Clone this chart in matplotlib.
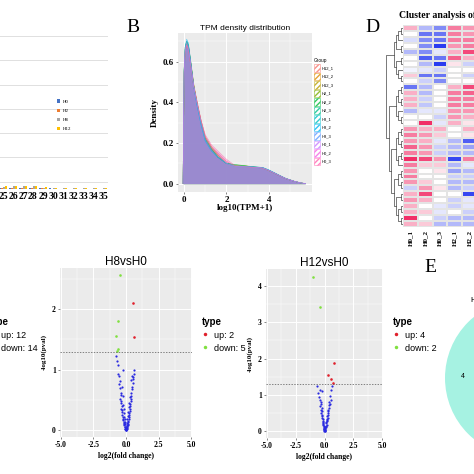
import numpy as np
import matplotlib
matplotlib.use('Agg')
import matplotlib.pyplot as plt
from matplotlib.colors import LinearSegmentedColormap
from matplotlib.patches import Patch, Circle
from matplotlib.lines import Line2D

SERIF = 'Liberation Serif'
SANS = 'Liberation Sans'

# ---------------- data ----------------
# panel A (only the right end is visible)
a_cats = [25, 26, 27, 28, 29, 30, 31, 32, 33, 34, 35]
a_series = ['H0', 'H2', 'H8', 'H12']
a_colors = ['#4472c4', '#ed7d31', '#a5a5a5', '#ffc000']
a_vals = {
    'H0':  [0.04, 0.05, 0.05, 0.05, 0.03, 0.03, 0.02, 0.02, 0.02, 0.02, 0.02],
    'H2':  [0.05, 0.06, 0.05, 0.05, 0.03, 0.02, 0.02, 0.02, 0.02, 0.02, 0.02],
    'H8':  [0.10, 0.12, 0.11, 0.12, 0.06, 0.05, 0.05, 0.05, 0.05, 0.05, 0.05],
    'H12': [0.12, 0.14, 0.12, 0.13, 0.07, 0.06, 0.06, 0.06, 0.06, 0.06, 0.06],
}

# panel B: TPM density
tpm_x = [-0.05, 0.0, 0.05, 0.12, 0.2, 0.3, 0.45, 0.6, 0.8, 1.0, 1.3, 1.6,
         2.0, 2.4, 2.8, 3.2, 3.7, 4.0, 4.4, 4.8, 5.2, 5.5, 5.75]
groups = ['H12_1', 'H12_2', 'H12_3', 'H2_1', 'H2_2', 'H2_3',
          'H8_1', 'H8_2', 'H8_3', 'H0_1', 'H0_2', 'H0_3']
tpm_density = [
    [0, .55, .66, .69, .67, .60, .49, .41, .31, .23, .18, .15, .11, .085, .083, .082, .078, .066, .046, .026, .012, .004, 0],
    [0, .54, .65, .68, .66, .59, .48, .40, .31, .23, .18, .14, .10, .086, .084, .082, .077, .065, .045, .025, .012, .004, 0],
    [0, .55, .66, .69, .67, .60, .48, .40, .30, .22, .17, .14, .10, .090, .088, .083, .078, .065, .045, .025, .012, .004, 0],
    [0, .56, .67, .70, .68, .61, .49, .40, .30, .22, .17, .13, .10, .092, .090, .084, .079, .066, .046, .026, .012, .004, 0],
    [0, .56, .67, .70, .68, .60, .48, .40, .30, .22, .17, .13, .10, .094, .089, .083, .078, .065, .045, .025, .012, .004, 0],
    [0, .55, .66, .69, .67, .60, .48, .40, .30, .22, .17, .13, .10, .092, .088, .082, .078, .065, .045, .025, .012, .004, 0],
    [0, .56, .67, .70, .68, .60, .48, .39, .29, .21, .16, .13, .10, .086, .085, .083, .080, .068, .047, .026, .012, .004, 0],
    [0, .56, .67, .71, .69, .61, .48, .39, .29, .21, .16, .13, .10, .085, .084, .083, .080, .068, .047, .026, .012, .004, 0],
    [0, .55, .66, .70, .68, .60, .48, .39, .29, .21, .16, .13, .10, .085, .084, .083, .079, .067, .046, .026, .012, .004, 0],
    [0, .55, .66, .69, .67, .60, .48, .40, .30, .22, .17, .14, .10, .084, .082, .081, .077, .065, .045, .025, .012, .004, 0],
    [0, .54, .65, .68, .66, .59, .48, .40, .31, .23, .18, .15, .11, .086, .083, .081, .077, .065, .045, .025, .012, .004, 0],
    [0, .54, .65, .68, .66, .59, .48, .41, .31, .24, .19, .16, .12, .090, .084, .081, .077, .065, .045, .025, .012, .004, 0],
]
group_colors = ['#F8766D', '#DE8C00', '#B79F00', '#7CAE00', '#00BA38', '#00C08B',
                '#00BFC4', '#00B4F0', '#619CFF', '#C77CFF', '#F564E3', '#FF64B0']
draw_order = [0, 1, 2, 3, 4, 5, 6, 7, 11, 8, 10, 9]

# panel D: heatmap (visible columns only)
hm_cols = ['H0_1', 'H0_2', 'H0_3', 'H2_1', 'H2_2']
hm_vals = [
    [0.3, -0.3, -0.5, 0.5, 0.4], [0.0, -0.6, -0.6, 0.5, 0.4],
    [-0.15, -0.5, -0.6, 0.5, 0.5], [0.0, -0.5, -0.9, 0.4, 0.5],
    [-0.3, -0.5, -0.1, 0.3, 0.7], [0.0, -0.7, -0.6, 0.6, 0.3],
    [0.0, -0.3, -0.9, 0.1, -0.2], [-0.05, -0.1, -0.2, 0.0, 0.0],
    [0.2, -0.6, -0.6, 0.0, -0.2], [0.0, -0.2, -0.5, 0.0, 0.0],
    [-0.6, -0.3, 0.0, 0.3, 0.7], [0.3, -0.3, 0.0, 0.5, 0.6],
    [0.3, -0.2, 0.0, 0.5, 0.5], [0.3, -0.25, 0.0, 0.5, 0.5],
    [-0.3, -0.1, -0.1, 0.4, 0.4], [0.0, 0.0, -0.2, 0.4, 0.3],
    [0.0, 0.8, -0.1, 0.3, 0.1], [0.4, 0.3, 0.3, 0.0, 0.3],
    [0.5, 0.4, 0.2, 0.0, 0.1], [0.4, 0.3, -0.1, -0.3, -0.7],
    [0.6, 0.4, -0.2, -0.3, -0.4], [0.5, 0.4, -0.2, -0.3, -0.3],
    [0.8, 0.7, 0.4, -0.8, 0.5], [0.5, 0.2, 0.2, -0.3, -0.1],
    [0.4, 0.0, 0.1, -0.4, -0.3], [0.5, 0.0, 0.0, -0.2, -0.2],
    [0.4, 0.2, 0.0, -0.3, -0.3], [-0.2, 0.4, 0.1, -0.3, -0.2],
    [0.3, 0.7, 0.0, 0.0, -0.8], [0.4, 0.3, 0.0, -0.2, -0.1],
    [0.3, 0.0, -0.1, -0.2, -0.1], [0.3, 0.2, -0.1, 0.0, -0.2],
    [0.8, 0.0, -0.2, -0.3, -0.3], [0.3, 0.2, -0.3, -0.3, -0.3],
]
row_tree = (((((0, 1), 2), (3, 4)), ((5, 6), (7, (8, 9)))),
            ((((10, 11), (12, 13)), (14, (15, 16))),
             ((((17, 18), (19, 20)), ((21, 22), 23)),
              (((24, 25), (26, 27)), ((28, 29), ((30, 31), (32, 33)))))))

# volcano H8vsH0
h8_up = ([0.54, 0.59], [2.11, 1.54])
h8_down = ([-0.48, -0.64, -0.74, -0.64, -0.70], [2.56, 1.81, 1.55, 1.34, 1.31])
h8_ns_x = [-0.74, -0.66, -0.62, -0.60, -0.55, -0.48, -0.50, -0.45, -0.42, -0.40, -0.44, -0.38,
           -0.35, -0.33, -0.36, -0.30, -0.28, -0.27, -0.25, -0.22, -0.20, -0.18, -0.16, -0.14,
           -0.12, -0.10, -0.08, -0.06, -0.04, -0.02, -0.20, -0.30, -0.25, -0.22, -0.18, -0.15,
           -0.12, -0.10, -0.08, 0.62, 0.58, 0.55, 0.52, 0.45, 0.40, 0.50, 0.48, 0.44, 0.42,
           0.40, 0.38, 0.36, 0.34, 0.32, 0.30, 0.28, 0.26, 0.24, 0.22, 0.20, 0.18, 0.16, 0.14,
           0.12, 0.10, 0.08, 0.06, 0.04, 0.02, 0.30, 0.25, 0.20, 0.16, 0.12, 0.09, 0.06, 0.03,
           0.0, 0.01, -0.01, 0.05, -0.05]
h8_ns_y = [1.22, 1.15, 1.08, 0.93, 0.90, 0.82, 0.76, 0.70, 0.62, 0.58, 0.52, 0.48,
           0.45, 0.40, 0.36, 0.33, 0.30, 0.26, 0.22, 0.19, 0.17, 0.14, 0.12, 0.10,
           0.08, 0.06, 0.05, 0.03, 0.02, 0.01, 0.99, 0.72, 0.56, 0.42, 0.35, 0.28,
           0.22, 0.18, 0.14, 1.00, 0.93, 0.88, 0.85, 0.90, 0.83, 0.78, 0.72, 0.68, 0.62,
           0.57, 0.52, 0.48, 0.44, 0.40, 0.36, 0.32, 0.28, 0.25, 0.22, 0.19, 0.16, 0.14, 0.11,
           0.09, 0.07, 0.05, 0.04, 0.02, 0.01, 0.55, 0.45, 0.38, 0.30, 0.24, 0.18, 0.12, 0.06,
           0.0, 0.03, 0.04, 0.09, 0.10]

# volcano H12vsH0
h12_up = ([0.86, 0.34, 0.57, 0.72], [1.88, 1.56, 1.44, 1.34])
h12_down = ([-0.95, -0.37], [4.24, 3.43])
h12_ns_x = [-0.66, -0.43, -0.20, -0.55, -0.37, -0.45, -0.32, -0.28, -0.35, -0.25, -0.30, -0.22,
            -0.26, -0.20, -0.18, -0.22, -0.16, -0.14, -0.17, -0.12, -0.10, -0.13, -0.08, -0.07,
            -0.05, -0.04, -0.02, -0.01, 0.63, 0.57, 0.49, 0.52, 0.40, 0.44, 0.36, 0.38, 0.33,
            0.30, 0.34, 0.27, 0.25, 0.28, 0.22, 0.20, 0.23, 0.17, 0.15, 0.18, 0.12, 0.10, 0.08,
            0.06, 0.04, 0.02, 0.0, 0.01, -0.01, 0.03]
h12_ns_y = [1.24, 1.14, 1.12, 1.05, 0.87, 0.95, 0.80, 0.74, 0.70, 0.65, 0.60, 0.56,
            0.50, 0.46, 0.42, 0.38, 0.34, 0.30, 0.27, 0.24, 0.20, 0.17, 0.15, 0.12,
            0.09, 0.06, 0.03, 0.01, 1.24, 1.13, 0.98, 0.85, 0.82, 0.76, 0.72, 0.64, 0.60,
            0.55, 0.50, 0.46, 0.42, 0.38, 0.35, 0.31, 0.28, 0.25, 0.22, 0.19, 0.16, 0.13, 0.10,
            0.07, 0.05, 0.02, 0.0, 0.04, 0.08, 0.11]

c_up, c_down, c_ns = '#e0202c', '#80e040', '#2a2ae0'

# ---------------- helpers ----------------
W = 474.0
def box(l, t, r, b):
    return [l / W, 1 - b / W, (r - l) / W, (b - t) / W]

def fx(x):
    return x / W

def fy(y):
    return 1 - y / W

def gg_axes(ax, xmaj, xmin, ymaj, ymin):
    ax.set_facecolor('#ebebeb')
    for s in ax.spines.values():
        s.set_visible(False)
    ax.set_xticks(xmaj)
    ax.set_xticks(xmin, minor=True)
    ax.set_yticks(ymaj)
    ax.set_yticks(ymin, minor=True)
    ax.grid(True, which='major', color='white', lw=0.7)
    ax.grid(True, which='minor', color='white', lw=0.35)
    ax.set_axisbelow(True)
    ax.tick_params(which='both', length=1.5, width=0.5, color='#555555', pad=1.5)
    ax.tick_params(which='minor', length=0)

fig = plt.figure(figsize=(4.74, 4.74), dpi=100)

# ---------------- panel A ----------------
ax = fig.add_axes(box(108 - 35 * 10, 24, 108, 189))
xs = np.array(a_cats)
for k, s in enumerate(a_series):
    ax.bar(xs - 0.3 + 0.2 * k, a_vals[s], width=0.18, color=a_colors[k], label=s)
ax.set_xlim(0.5, 35.5)
ax.set_ylim(0, 6.8)
ax.set_yticks(np.arange(7) + 0.3)
ax.set_yticklabels([])
ax.grid(True, axis='y', color='#dadada', lw=0.6)
ax.set_axisbelow(True)
for s in ax.spines.values():
    s.set_visible(False)
ax.set_xticks(a_cats)
ax.set_xticklabels([str(c) for c in a_cats], fontfamily=SERIF, fontweight='bold', fontsize=7)
ax.tick_params(length=0, pad=2)
fig.legend(loc='upper left', bbox_to_anchor=(fx(55), fy(97)), frameon=False,
           prop={'family': SERIF, 'size': 3.5}, handlelength=0.6, handleheight=0.6,
           labelspacing=1.0, handletextpad=0.5, borderpad=0)

# ---------------- panel B ----------------
ax = fig.add_axes(box(178, 33, 312, 192))
for k in draw_order:
    ax.fill_between(tpm_x, tpm_density[k], color=group_colors[k], alpha=0.25, lw=0)
    ax.plot(tpm_x, tpm_density[k], color=group_colors[k], lw=0.4, alpha=0.6)
ax.set_xlim(-0.29, 6.05)
ax.set_ylim(-0.041, 0.74)
gg_axes(ax, [0, 2, 4], [1, 3, 5], [0.0, 0.2, 0.4, 0.6], [0.1, 0.3, 0.5, 0.7])
ax.set_yticklabels(['0.0', '0.2', '0.4', '0.6'], fontfamily=SERIF, fontweight='bold', fontsize=6.5)
ax.set_xticklabels(['0', '2', '4'], fontfamily=SERIF, fontweight='bold', fontsize=6.5)
ax.set_xlabel('log10(TPM+1)', fontfamily=SERIF, fontweight='bold', fontsize=6.5, labelpad=0)
ax.set_ylabel('Density', fontfamily=SERIF, fontweight='bold', fontsize=6.5, labelpad=3)
ax.set_title('TPM density distribution', fontfamily=SANS, fontsize=6, pad=2)
handles = [Patch(facecolor='none', edgecolor=c, hatch='//////', lw=0.4, alpha=0.8)
           for c in group_colors]
leg = fig.legend(handles, groups, loc='upper left', bbox_to_anchor=(fx(312), fy(56)),
                 frameon=False, title='Group', prop={'family': SANS, 'size': 3},
                 title_fontproperties={'family': SANS, 'size': 3.4},
                 handlelength=1.3, handleheight=2.3, labelspacing=0.3,
                 handletextpad=0.4, borderpad=0, alignment='left')

# ---------------- panel D ----------------
cmap = LinearSegmentedColormap.from_list('hm', ['#2a3cf0', '#ffffff', '#f0225e'])
hm = np.array(hm_vals)
nrow, ncol = hm.shape
ax = fig.add_axes(box(403, 25, 403 + 14.8 * ncol, 227))
ax.pcolormesh(hm, cmap=cmap, vmin=-0.85, vmax=0.85, edgecolors='#e4e4e4', linewidth=0.2)
ax.set_xlim(0, ncol)
ax.set_ylim(nrow, 0)
for s in ax.spines.values():
    s.set_visible(False)
ax.set_yticks([])
ax.set_xticks(np.arange(ncol) + 0.5)
ax.set_xticklabels(hm_cols, rotation=90, fontfamily=SERIF, fontweight='bold', fontsize=5)
ax.tick_params(length=0, pad=2)

# dendrogram
dax = fig.add_axes(box(386, 25, 403, 227))
def draw_tree(node):
    if isinstance(node, int):
        return node + 0.5, 0
    y1, h1 = draw_tree(node[0])
    y2, h2 = draw_tree(node[1])
    h = max(h1, h2) + 1
    dax.plot([-h1, -h, -h, -h2], [y1, y1, y2, y2], color='#444444', lw=0.5)
    return (y1 + y2) / 2, h
_, root_h = draw_tree(row_tree)
dax.set_xlim(-root_h - 0.2, 0)
dax.set_ylim(nrow, 0)
dax.axis('off')
fig.text(fx(399), fy(15), 'Cluster analysis of differentially expressed genes',
         fontfamily=SERIF, fontweight='bold', fontsize=7, ha='left', va='center')

# ---------------- volcano plots ----------------
def volcano(rect, title, up, down, nsx, nsy, ylim, ymaj, ymin):
    ax = fig.add_axes(rect)
    ax.scatter(nsx, nsy, s=2.5, color=c_ns, lw=0)
    ax.scatter(up[0], up[1], s=3.5, color=c_up, lw=0)
    ax.scatter(down[0], down[1], s=3.5, color=c_down, lw=0)
    ax.axhline(-np.log10(0.05), color='#555555', lw=0.5, ls=(0, (2, 2)))
    ax.set_xlim(-5.05, 5.05)
    ax.set_ylim(*ylim)
    gg_axes(ax, [-5, -2.5, 0, 2.5, 5], [-3.75, -1.25, 1.25, 3.75], ymaj, ymin)
    ax.set_xticklabels(['-5.0', '-2.5', '0.0', '2.5', '5.0'], fontfamily=SERIF,
                       fontweight='bold', fontsize=5.5)
    ax.set_yticklabels([str(v) for v in ymaj], fontfamily=SERIF, fontweight='bold', fontsize=5.5)
    ax.set_xlabel('log2(fold change)', fontfamily=SERIF, fontweight='bold', fontsize=5.5, labelpad=2)
    ax.set_ylabel('-log10(pval)', fontfamily=SERIF, fontweight='bold', fontsize=5, labelpad=4)
    ax.set_title(title, fontfamily=SANS, fontsize=8.5, pad=2)
    return ax

volcano(box(60, 268, 192, 437), 'H8vsH0', h8_up, h8_down, h8_ns_x, h8_ns_y,
        (-0.11, 2.68), [0, 1, 2], [0.5, 1.5, 2.5])
volcano(box(266, 269, 383, 438), 'H12vsH0', h12_up, h12_down, h12_ns_x, h12_ns_y,
        (-0.18, 4.46), [0, 1, 2, 3, 4], [0.5, 1.5, 2.5, 3.5])

def type_legend(x, y, n_up, n_down):
    hs = [Line2D([], [], ls='none', marker='o', ms=2.5, color=c_up, mew=0),
          Line2D([], [], ls='none', marker='o', ms=2.5, color=c_down, mew=0)]
    fig.legend(hs, ['up: %d' % n_up, 'down: %d' % n_down], loc='upper left',
               bbox_to_anchor=(fx(x), fy(y)), frameon=False, title='type',
               prop={'family': SANS, 'size': 6.5},
               title_fontproperties={'family': SANS, 'size': 7, 'weight': 'bold'},
               handlelength=0.8, handletextpad=0.6, labelspacing=0.45,
               borderpad=0, alignment='left')

type_legend(-16, 312, 12, 14)
type_legend(197, 312, 2, 5)
type_legend(388, 312, 4, 2)

# ---------------- panel E ----------------
fig.patches.append(Circle((fx(524), fy(378)), 79 / W, transform=fig.transFigure,
                          facecolor='#a6f2e2', edgecolor='none'))
fig.text(fx(463), fy(377), '4', fontfamily=SANS, fontsize=5, ha='center', va='center')
fig.text(fx(470), fy(300), 'H12vsH0', fontfamily=SANS, fontsize=6, ha='left', va='center')

# panel letters
for lab, x, y in [('B', 133, 27), ('D', 372, 27), ('E', 430, 267)]:
    fig.text(fx(x), fy(y), lab, fontfamily=SERIF, fontsize=14, ha='center', va='center')

fig.savefig('out.png', dpi=100)
